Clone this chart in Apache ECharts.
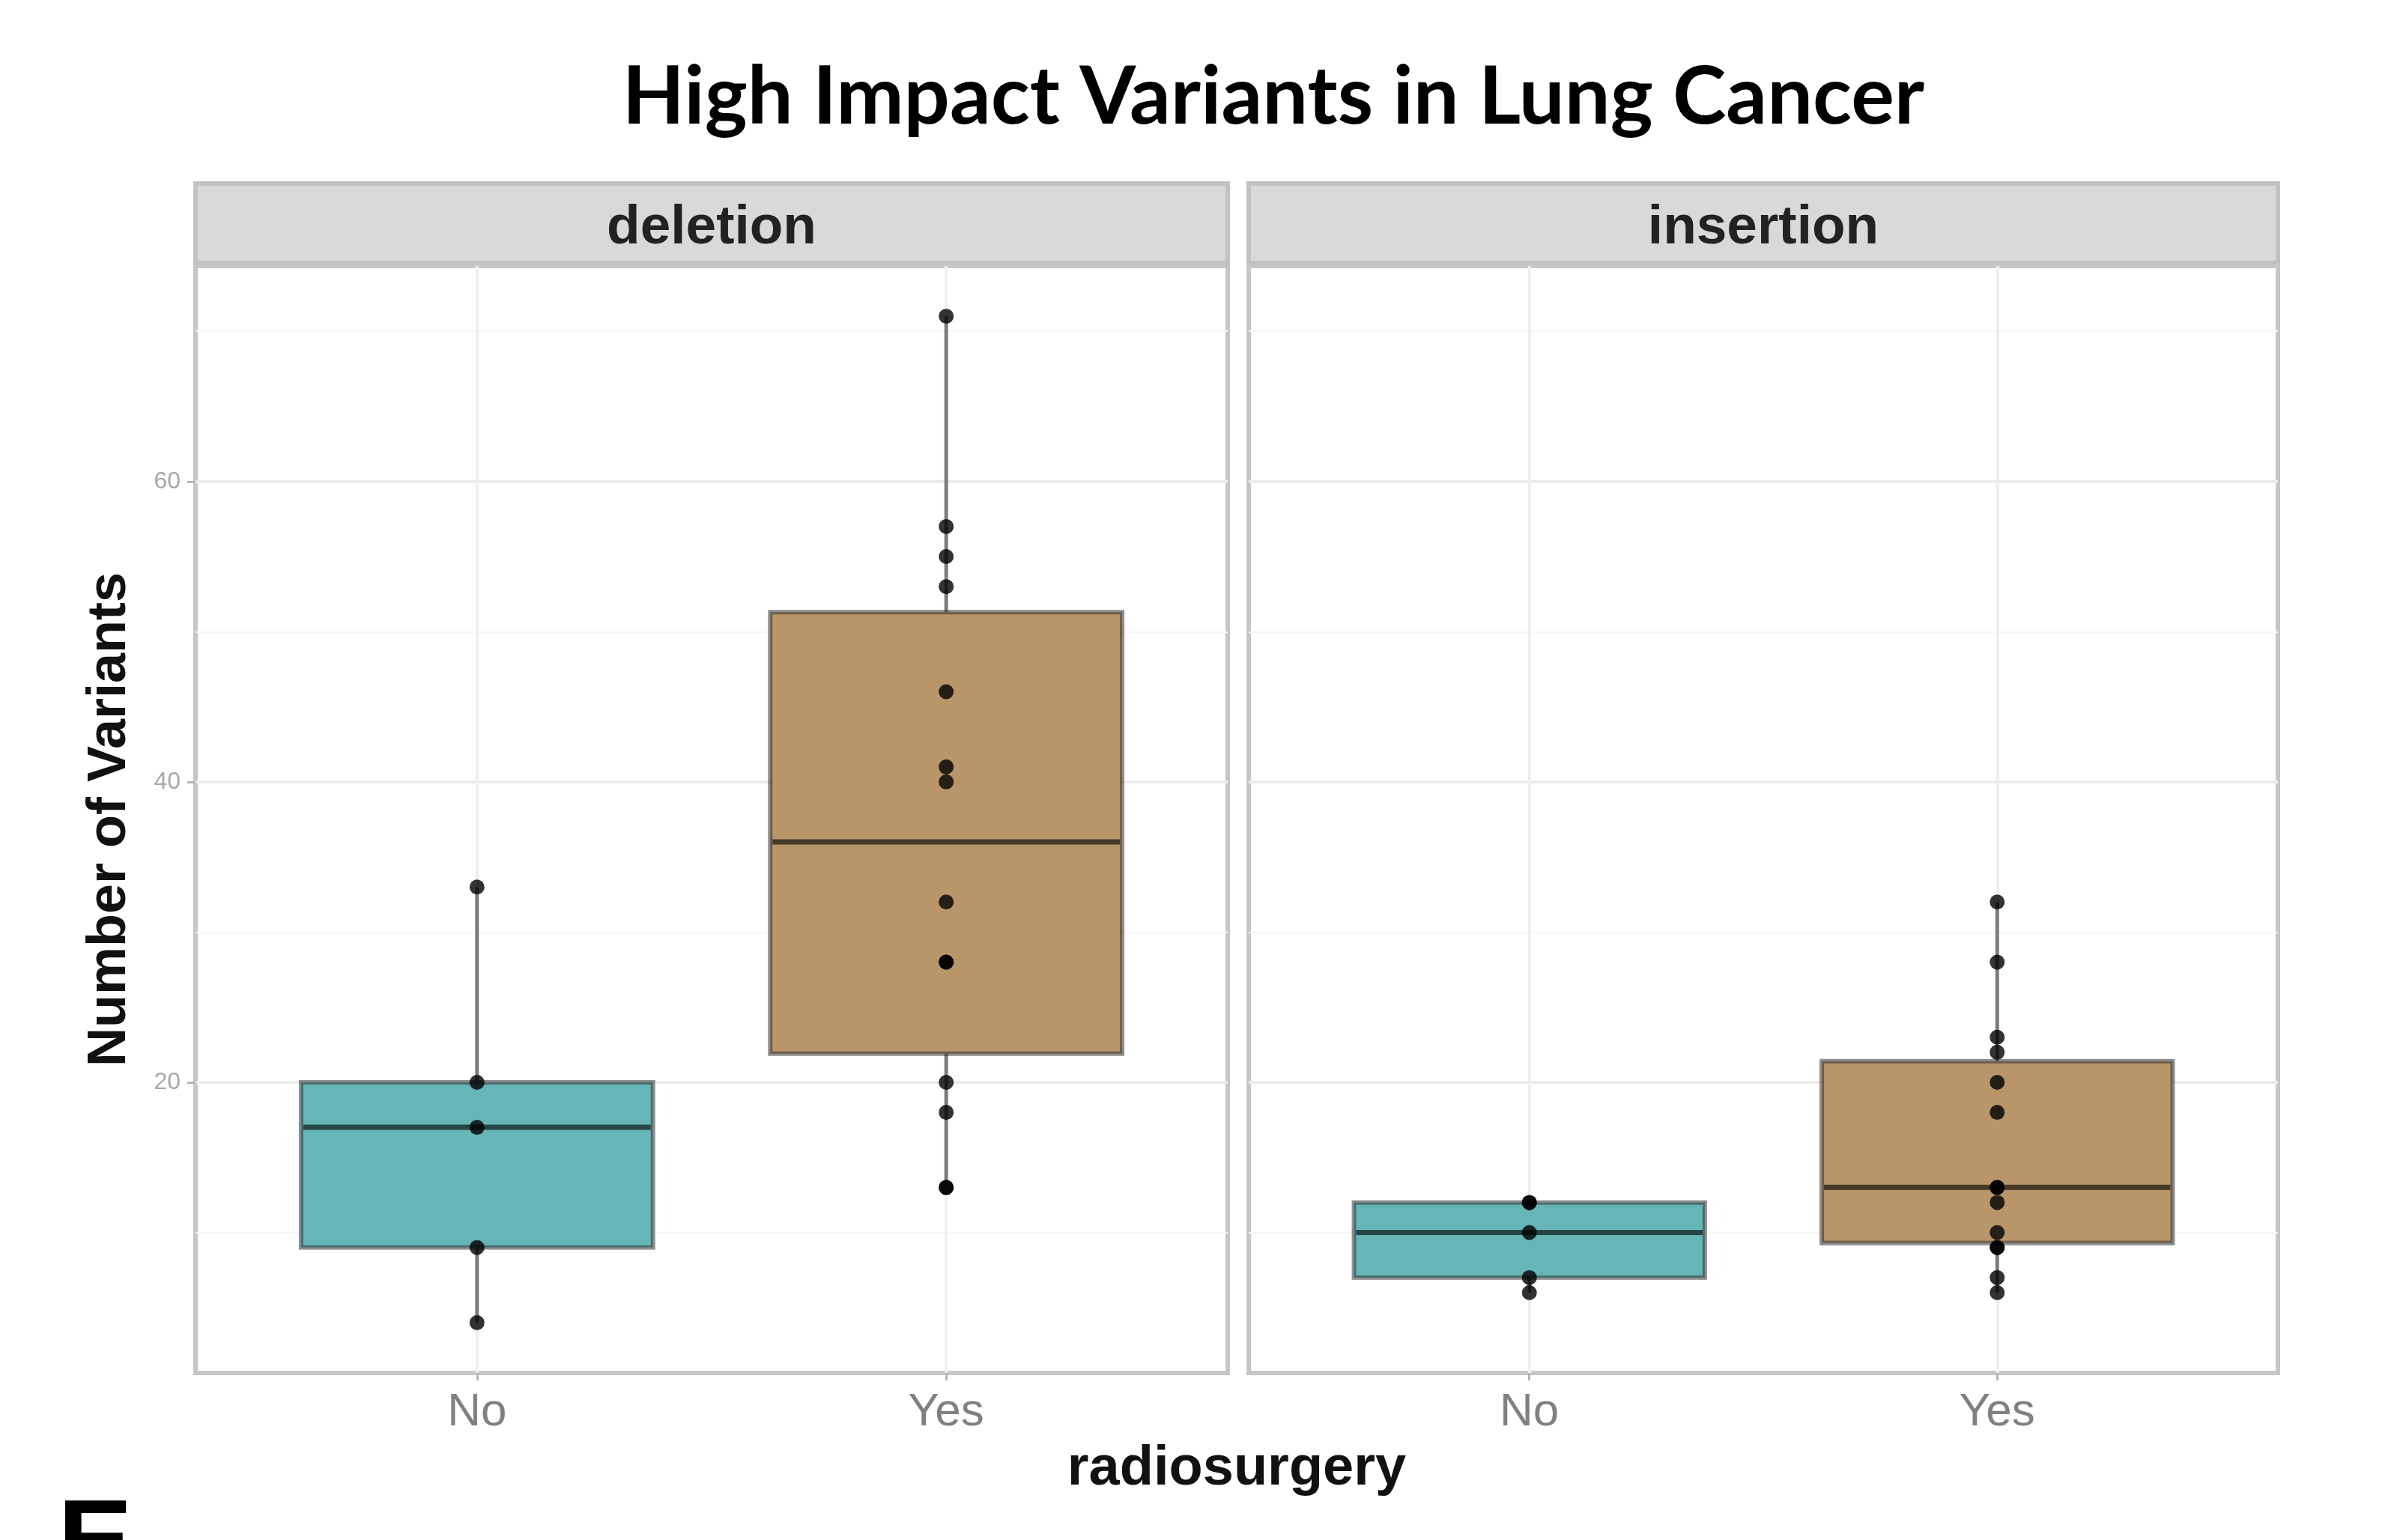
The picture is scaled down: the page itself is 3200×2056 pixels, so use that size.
<!DOCTYPE html>
<html><head><meta charset="utf-8">
<script src="https://cdn.jsdelivr.net/npm/echarts@6/dist/echarts.min.js"></script>
<style>html,body{margin:0;padding:0;background:#fff}#c{width:3200px;height:2056px}</style>
</head><body><div id="c"></div>
<script>
// ---- data ----
const chartTitle = 'High Impact Variants in Lung Cancer';
const facets = ['deletion', 'insertion'];
const groups = ['No', 'Yes'];
const xTitle = 'radiosurgery';
const yTitle = 'Number of Variants';
const yTicks = [20, 40, 60];
const yMinorTicks = [10, 30, 50, 70];
// box statistics [lower whisker, Q1, median, Q3, upper whisker] per group
const boxDeletionNo = [4, 9, 17, 20, 33];
const boxDeletionYes = [13, 21.9, 36, 51.3, 71];
const boxInsertionNo = [6, 7, 10, 12, 12];
const boxInsertionYes = [6, 9.3, 13, 21.4, 32];
// individual points
const ptsDeletionNo = [33, 20, 17, 9, 4];
const ptsDeletionYes = [71, 57, 55, 53, 46, 41, 40, 32, 28, 28, 20, 18, 13, 13];
const ptsInsertionNo = [12, 12, 10, 7, 6];
const ptsInsertionYes = [32, 28, 23, 22, 20, 18, 13, 13, 12, 10, 9, 9, 7, 6];
// y range (data range 4..71 expanded by 5%)
const yMin = 0.65, yMax = 74.35;

// ---- styles ----
const fills = ['#66b6b8', '#b9956a'];
const FONT = '"Liberation Sans", Arial, sans-serif';

const boxes = [[boxDeletionNo, boxDeletionYes], [boxInsertionNo, boxInsertionYes]];
const points = [[ptsDeletionNo, ptsDeletionYes], [ptsInsertionNo, ptsInsertionYes]];

function renderBox(params, api) {
  const x = api.value(0);
  const lo = api.coord([x, api.value(1)]);
  const q1 = api.coord([x, api.value(2)]);
  const md = api.coord([x, api.value(3)]);
  const q3 = api.coord([x, api.value(4)]);
  const hi = api.coord([x, api.value(5)]);
  const w = api.size([0.75, 0])[0];
  const gi = api.value(6);
  const cx = lo[0];
  return {
    type: 'group',
    children: [
      { type: 'line', shape: { x1: cx, y1: q3[1], x2: cx, y2: hi[1] }, style: { stroke: '#7c7c7c', lineWidth: 5 } },
      { type: 'line', shape: { x1: cx, y1: q1[1], x2: cx, y2: lo[1] }, style: { stroke: '#7c7c7c', lineWidth: 5 } },
      { type: 'rect', shape: { x: cx - w / 2, y: q3[1], width: w, height: q1[1] - q3[1] },
        style: { fill: fills[gi], stroke: 'rgba(50,50,50,0.55)', lineWidth: 6 } },
      { type: 'line', shape: { x1: cx - w / 2 + 3, y1: md[1], x2: cx + w / 2 - 3, y2: md[1] },
        style: { stroke: 'rgba(0,0,0,0.62)', lineWidth: 7 } }
    ]
  };
}

const panels = [
  { left: 261, width: 1378 },
  { left: 1667, width: 1374 }
];
const panelTop = 355, panelHeight = 1478;

const grid = panels.map(p => ({
  left: p.left, top: panelTop, width: p.width, height: panelHeight,
  show: true, backgroundColor: '#ffffff', borderColor: '#c6c6c6', borderWidth: 6, containLabel: false
}));

const xAxis = panels.map((p, k) => ({
  type: 'value', gridIndex: k, min: 0.4, max: 2.6,
  axisLine: { show: false },
  axisTick: { show: true, customValues: [1, 2], length: 10, lineStyle: { color: '#b5b5b5', width: 3 } },
  axisLabel: { customValues: [1, 2], formatter: v => groups[Math.round(v) - 1], fontSize: 62,
    color: '#808080', margin: 22, fontFamily: FONT },
  splitLine: { show: true, lineStyle: { color: '#efefef', width: 4 } }
}));

const yAxis = [];
panels.forEach((p, k) => {
  yAxis.push({
    type: 'value', gridIndex: k, min: yMin, max: yMax, position: 'left',
    name: k === 0 ? yTitle : '', nameLocation: 'middle', nameGap: 78, nameRotate: 90,
    nameTextStyle: { fontSize: 72, fontWeight: 'bold', color: '#111', fontFamily: FONT },
    axisLine: { show: false },
    axisTick: { show: k === 0, customValues: yTicks, length: 11, lineStyle: { color: '#b5b5b5', width: 3 } },
    axisLabel: { show: k === 0, customValues: yTicks, fontSize: 32, color: '#a8a8a8', margin: 20, fontFamily: FONT },
    splitLine: { show: true, lineStyle: { color: '#ececec', width: 4 } }
  });
});
panels.forEach((p, k) => {
  yAxis.push({
    type: 'value', gridIndex: k, min: yMin, max: yMax, position: 'right',
    axisLine: { show: false }, axisTick: { show: false, customValues: yMinorTicks },
    axisLabel: { show: false, customValues: yMinorTicks },
    splitLine: { show: true, lineStyle: { color: '#f6f6f6', width: 2 } }
  });
});

const series = [];
panels.forEach((p, k) => {
  series.push({
    type: 'custom', name: facets[k] + ' boxes', xAxisIndex: k, yAxisIndex: k,
    renderItem: renderBox, z: 2,
    encode: { x: 0, y: [1, 2, 3, 4, 5] },
    data: groups.map((g, i) => [i + 1].concat(boxes[k][i]).concat([i]))
  });
  groups.forEach((g, i) => {
    series.push({
      type: 'scatter', name: facets[k] + ' ' + g, xAxisIndex: k, yAxisIndex: k, z: 5,
      symbol: 'circle', symbolSize: 20, itemStyle: { color: '#000' },
      data: points[k][i].map(v => [i + 1, v])
    });
  });
});

const graphic = [];
panels.forEach((p, k) => {
  graphic.push({ type: 'rect', shape: { x: p.left, y: 245, width: p.width, height: 106 },
    style: { fill: '#d9d9d9', stroke: '#c2c2c2', lineWidth: 6 }, z: 10 });
  graphic.push({ type: 'text', x: p.left + p.width / 2, y: 305, z: 11,
    style: { text: facets[k], font: 'bold 73px ' + FONT, fill: '#222', textAlign: 'center', textVerticalAlign: 'middle' } });
});
graphic.push({ type: 'text', x: 1700, y: 130, z: 11,
  style: { text: chartTitle, font: 'bold 108px Lato, "Open Sans", sans-serif', fill: '#000', textAlign: 'center', textVerticalAlign: 'middle' } });
graphic.push({ type: 'text', x: 1651, y: 1962, z: 11,
  style: { text: xTitle, font: 'bold 74px ' + FONT, fill: '#111', textAlign: 'center', textVerticalAlign: 'middle' } });
graphic.push({ type: 'text', x: 77, y: 2066, z: 11,
  style: { text: 'E', font: 'bold 150px ' + FONT, fill: '#000', textAlign: 'left', textVerticalAlign: 'middle' } });

const chart = echarts.init(document.getElementById('c'), null, { renderer: 'canvas' });
chart.setOption({
  animation: false,
  backgroundColor: '#ffffff',
  grid, xAxis, yAxis, series, graphic
});
</script>
</body></html>
